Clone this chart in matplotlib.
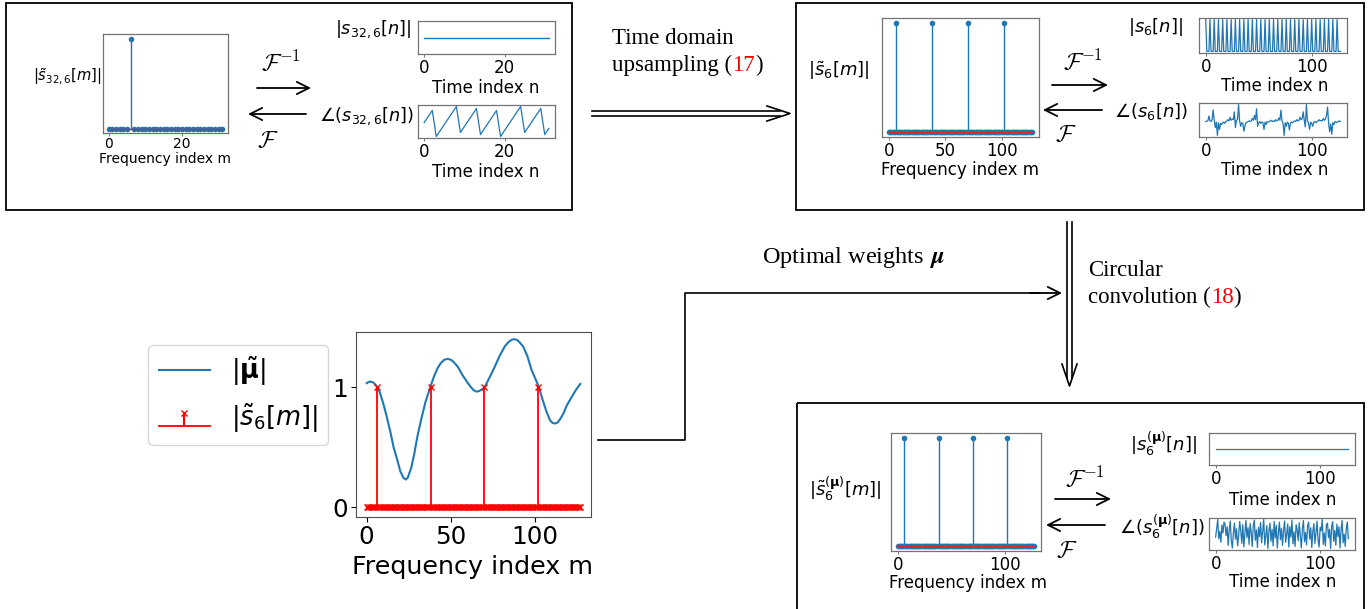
import numpy as np
import matplotlib
matplotlib.use('Agg')
import matplotlib.pyplot as plt
from matplotlib.patches import Rectangle

# ---------------- data ----------------
# |s~_{32,6}[m]|, m = 0..31
s32_spec = [0, 0, 0, 0, 0, 0, 1, 0, 0, 0, 0, 0, 0, 0, 0, 0,
            0, 0, 0, 0, 0, 0, 0, 0, 0, 0, 0, 0, 0, 0, 0, 0]
# |s_{32,6}[n]|
s32_mag = [1, 1, 1, 1, 1, 1, 1, 1, 1, 1, 1, 1, 1, 1, 1, 1,
           1, 1, 1, 1, 1, 1, 1, 1, 1, 1, 1, 1, 1, 1, 1, 1]
# angle(s_{32,6}[n])
s32_phase = [0.00, 1.18, 2.36, -2.75, -1.57, -0.39, 0.79, 1.96,
             3.14, -1.96, -0.79, 0.39, 1.57, 2.75, -2.36, -1.18,
             0.00, 1.18, 2.36, -2.75, -1.57, -0.39, 0.79, 1.96,
             3.14, -1.96, -0.79, 0.39, 1.57, 2.75, -2.36, -1.18]
# |s~_6[m]|, m = 0..127
s6_spec = [0, 0, 0, 0, 0, 0, 1, 0, 0, 0, 0, 0, 0, 0, 0, 0,
           0, 0, 0, 0, 0, 0, 0, 0, 0, 0, 0, 0, 0, 0, 0, 0,
           0, 0, 0, 0, 0, 0, 1, 0, 0, 0, 0, 0, 0, 0, 0, 0,
           0, 0, 0, 0, 0, 0, 0, 0, 0, 0, 0, 0, 0, 0, 0, 0,
           0, 0, 0, 0, 0, 0, 1, 0, 0, 0, 0, 0, 0, 0, 0, 0,
           0, 0, 0, 0, 0, 0, 0, 0, 0, 0, 0, 0, 0, 0, 0, 0,
           0, 0, 0, 0, 0, 0, 1, 0, 0, 0, 0, 0, 0, 0, 0, 0,
           0, 0, 0, 0, 0, 0, 0, 0, 0, 0, 0, 0, 0, 0, 0, 0]
# |s_6[n]|
s6_mag = [1, 0, 0, 0, 1, 0, 0, 0, 1, 0, 0, 0, 1, 0, 0, 0,
          1, 0, 0, 0, 1, 0, 0, 0, 1, 0, 0, 0, 1, 0, 0, 0,
          1, 0, 0, 0, 1, 0, 0, 0, 1, 0, 0, 0, 1, 0, 0, 0,
          1, 0, 0, 0, 1, 0, 0, 0, 1, 0, 0, 0, 1, 0, 0, 0,
          1, 0, 0, 0, 1, 0, 0, 0, 1, 0, 0, 0, 1, 0, 0, 0,
          1, 0, 0, 0, 1, 0, 0, 0, 1, 0, 0, 0, 1, 0, 0, 0,
          1, 0, 0, 0, 1, 0, 0, 0, 1, 0, 0, 0, 1, 0, 0, 0,
          1, 0, 0, 0, 1, 0, 0, 0, 1, 0, 0, 0, 1, 0, 0, 0]
# angle(s_6[n])
s6_phase = [0.0, 0.05, 0.1, 0.9, 0.1, 0.0, 0.3, 1.9, 0.2, -1.0, -0.1, -2.3, -0.2, -1.3, -0.3, -0.5,
            -0.2, -0.1, -0.3, 0.0, 0.1, 0.3, 0.1, 0.7, 0.2, 0.4, 0.3, 1.6, -1.0, 0.2, 0.3, 2.8,
            0.1, -0.8, -0.2, -0.3, -1.6, -0.7, -0.2, -0.1, 0.0, 0.1, 0.0, 0.1, 0.5, 0.2, 1.0, 0.3,
            2.1, -0.8, -0.2, 0.0, -0.3, -0.1, -0.2, -1.3, -0.1, -0.5, 0.0, -0.1, 0.0, 0.1, 0.2, 0.0,
            0.1, 0.0, 0.3, 0.1, 0.2, 0.6, 0.2, 1.9, 0.1, -0.3, -2.3, -0.2, -0.8, -0.1, -0.3, -1.4,
            -0.2, -0.1, -0.2, 0.0, 0.1, 0.0, 0.3, 0.1, 0.2, 0.7, 0.3, 0.4, 1.6, 0.2, -0.9, 2.8,
            0.2, -0.3, -1.3, -0.1, -0.3, -0.8, -0.1, 0.0, -0.2, 0.0, 0.1, 0.3, 0.1, 0.2, 0.1, 0.5,
            0.2, 0.4, 1.0, 2.4, -0.3, -1.7, -0.4, -2.1, -0.2, -0.5, 0.0, -0.1, -0.2, 0.0, 0.1, 0.0]
# |s~_6^(mu)[m]|
s6mu_spec = [0, 0, 0, 0, 0, 0, 1, 0, 0, 0, 0, 0, 0, 0, 0, 0,
             0, 0, 0, 0, 0, 0, 0, 0, 0, 0, 0, 0, 0, 0, 0, 0,
             0, 0, 0, 0, 0, 0, 1, 0, 0, 0, 0, 0, 0, 0, 0, 0,
             0, 0, 0, 0, 0, 0, 0, 0, 0, 0, 0, 0, 0, 0, 0, 0,
             0, 0, 0, 0, 0, 0, 1, 0, 0, 0, 0, 0, 0, 0, 0, 0,
             0, 0, 0, 0, 0, 0, 0, 0, 0, 0, 0, 0, 0, 0, 0, 0,
             0, 0, 0, 0, 0, 0, 1, 0, 0, 0, 0, 0, 0, 0, 0, 0,
             0, 0, 0, 0, 0, 0, 0, 0, 0, 0, 0, 0, 0, 0, 0, 0]
# |s_6^(mu)[n]|
s6mu_mag = [1, 1, 1, 1, 1, 1, 1, 1, 1, 1, 1, 1, 1, 1, 1, 1,
            1, 1, 1, 1, 1, 1, 1, 1, 1, 1, 1, 1, 1, 1, 1, 1,
            1, 1, 1, 1, 1, 1, 1, 1, 1, 1, 1, 1, 1, 1, 1, 1,
            1, 1, 1, 1, 1, 1, 1, 1, 1, 1, 1, 1, 1, 1, 1, 1,
            1, 1, 1, 1, 1, 1, 1, 1, 1, 1, 1, 1, 1, 1, 1, 1,
            1, 1, 1, 1, 1, 1, 1, 1, 1, 1, 1, 1, 1, 1, 1, 1,
            1, 1, 1, 1, 1, 1, 1, 1, 1, 1, 1, 1, 1, 1, 1, 1,
            1, 1, 1, 1, 1, 1, 1, 1, 1, 1, 1, 1, 1, 1, 1, 1]
# angle(s_6^(mu)[n])
s6mu_phase = [-0.5, 1.2, 2.9, -0.8, 0.6, -1.5, 1.8, 0.3, 2.4, 2.0, -0.2, 1.5, -2.1, 0.9, 2.6, -1.2,
              -2.6, 0.4, 2.2, -0.9, 1.1, -2.2, -0.3, 2.5, 0.8, -1.7, 1.9, -2.4, 0.2, 2.7, -0.6, 1.3,
              -1.9, 2.1, 0.5, -2.3, 1.6, 2.8, -1.1, 0.9, -2.5, 1.4, -0.4, 2.3, -1.6, 0.7, 2.9, -2.0,
              -0.2, 1.7, -2.7, 0.6, 2.2, -1.3, 1.0, -2.2, 2.5, -0.7, 1.8, -2.6, 0.3, 2.4, -1.0, 1.2,
              -2.1, 0.8, 2.6, -1.5, 0.1, 2.0, -2.4, 1.5, -0.5, 2.8, -1.8, 0.5, -2.3, 1.9, 0.9, -1.2,
              2.3, -0.3, -2.6, 1.1, 2.7, -1.4, 0.4, -2.0, 1.7, 2.4, -0.9, 1.3, -2.5, 0.6, 2.1, -1.7,
              0.2, 2.6, -1.1, -2.4, 1.4, 0.7, 2.9, -1.9, 0.3, -2.2, 1.8, 2.2, -0.6, 1.0, -2.7, 1.6,
              2.5, -1.3, 0.8, -2.1, 2.0, -0.4, 1.5, -2.6, 0.9, 2.7, -1.6, 0.1, -2.3, 1.2, 2.4, -0.8]
# |mu~| curve (frequency index, value)
mu_m = [0, 1.2, 2.4, 3.8, 5, 6.4, 8, 10.4, 12, 14.3, 16, 18.3, 20, 21.9, 23.3, 24.5, 26.5,
        28.3, 30, 32.3, 35, 37.8, 40, 42.2, 44, 46, 48.2, 50.5, 52, 54.2, 57, 60.2, 62, 63.5,
        65.1, 66.8, 68.5, 70.1, 73, 76.1, 79, 82.1, 84, 86, 87.6, 89.5, 91, 93, 95.5, 98, 100,
        102.4, 104.5, 106.9, 109, 110.5, 111.9, 113.5, 115, 116.9, 119, 121.9, 124.5, 127]
mu_val = [1.034, 1.044, 1.047, 1.04, 1.025, 1.0, 0.95, 0.838, 0.75, 0.615, 0.50, 0.39, 0.30,
          0.245, 0.232, 0.25, 0.33, 0.447, 0.58, 0.726, 0.88, 1.0, 1.09, 1.16, 1.20, 1.228, 1.237,
          1.226, 1.205, 1.17, 1.10, 1.034, 1.0, 0.977, 0.964, 0.968, 0.982, 1.0, 1.08, 1.17,
          1.26, 1.34, 1.372, 1.394, 1.40, 1.394, 1.372, 1.34, 1.26, 1.145, 1.08, 1.0, 0.90,
          0.796, 0.725, 0.703, 0.698, 0.706, 0.735, 0.78, 0.85, 0.92, 0.98, 1.028]

# ---------------- figure ----------------
W, H = 1371, 609
fig = plt.figure(figsize=(W / 100, H / 100), dpi=100)


def add_ax(x0, y0, x1, y1):
    return fig.add_axes([x0 / W, 1 - y1 / H, (x1 - x0) / W, (y1 - y0) / H])


ov = fig.add_axes([0, 0, 1, 1])
ov.set_xlim(0, W)
ov.set_ylim(H, 0)
ov.axis('off')

SERIF = 'Liberation Serif'
SPC = '0.45'


def style(ax, fs, ticks, length=2.5, pad=1.0):
    ax.set_yticks([])
    ax.set_xticks(ticks)
    ax.tick_params(labelsize=fs, length=length, width=0.7, color=SPC, pad=pad)
    for s in ax.spines.values():
        s.set_color(SPC)
        s.set_linewidth(0.9)


def small_stem(ax, vals, ms):
    idx = np.arange(len(vals))
    ml, sl, bl = ax.stem(idx, vals)
    ml.set_markersize(ms)
    sl.set_linewidth(1.0)
    bl.set_linewidth(1.0)


def txt(x, y, s, fs, ha='center', **kw):
    ov.text(x, y, s, fontsize=fs, ha=ha, va='center', **kw)


def arrow(x0, x1, y):
    ov.annotate('', xy=(x1, y), xytext=(x0, y),
                arrowprops=dict(arrowstyle='->', lw=1.3, color='k', mutation_scale=22,
                                shrinkA=0, shrinkB=0))


def chain(x, y, parts, fs):
    prev = ov.text(x, y, parts[0][0], color=parts[0][1], fontsize=fs, family=SERIF,
                   va='center', ha='left')
    for s, c in parts[1:]:
        prev = ov.annotate(s, xy=(1, 0), xycoords=prev, va='bottom', ha='left',
                           color=c, fontsize=fs, family=SERIF)


# ---- boxes ----
for (x0, y0, x1, y1) in [(6, 3, 572, 210), (796, 3, 1364, 210), (797, 403, 1364, 615)]:
    ov.add_patch(Rectangle((x0, y0), x1 - x0, y1 - y0, fill=False, ec='k', lw=1.3))

# ---- Box 1 ----
fs1 = 10.0
a = add_ax(103, 34, 228, 133)
small_stem(a, s32_spec, 3.0)
style(a, fs1, [0, 20], length=2, pad=1)
txt(165, 159, 'Frequency index m', fs1)
txt(67, 77, r'$|\tilde{s}_{32,6}[m]|$', 10.5)

fsT = 12.0
a = add_ax(418, 21, 555, 54)
a.plot(np.arange(32), s32_mag, lw=1.0)
style(a, fsT, [0, 20], length=2.5, pad=1)
txt(486, 88, 'Time index n', fsT)
txt(412, 29, r'$|s_{32,6}[n]|$', 12.8, ha='right')

a = add_ax(418, 105, 555, 138)
a.plot(np.arange(32), s32_phase, lw=0.9)
style(a, fsT, [0, 20], length=2.5, pad=1)
txt(486, 172, 'Time index n', fsT)
txt(414, 116, r'$\angle(s_{32,6}[n])$', 12.8, ha='right')

txt(281, 63, r'$\mathcal{F}^{-1}$', 17, math_fontfamily='cm')
arrow(257, 311, 88)
arrow(306, 248, 114)
txt(268, 140, r'$\mathcal{F}$', 17, math_fontfamily='cm')

# ---- middle connectors ----
chain(612, 38, [('Time domain', 'k')], 16.5)
chain(612, 65, [('upsampling (', 'k'), ('17', 'red'), (')', 'k')], 16.5)
ov.plot([592, 780], [111, 111], color='k', lw=1.2)
ov.plot([592, 780], [116, 116], color='k', lw=1.2)
ov.plot([767, 790, 767], [106, 113.5, 121], color='k', lw=1.2)

ov.plot([1067, 1067], [222, 378], color='k', lw=1.2)
ov.plot([1072, 1072], [222, 378], color='k', lw=1.2)
ov.plot([1062, 1069.5, 1077], [364, 386, 364], color='k', lw=1.2)
chain(1088, 270, [('Circular', 'k')], 16.5)
chain(1088, 297, [('convolution (', 'k'), ('18', 'red'), (')', 'k')], 16.5)

ov.text(762, 258, r'Optimal weights $\,\boldsymbol{\mu}$', fontsize=17.5, family=SERIF,
        math_fontfamily='stix', ha='left', va='center')
ov.plot([598, 685, 685, 1040], [440, 440, 293, 293], color='k', lw=1.2)
arrow(1030, 1062, 293)

# ---- Box 2 ----
fs2 = 12.0
a = add_ax(882, 18, 1039, 137)
small_stem(a, s6_spec, 3.0)
style(a, fs2, [0, 50, 100])
txt(960, 170, 'Frequency index m', fs2)
txt(839, 71, r'$|\tilde{s}_6[m]|$', 13)

a = add_ax(1199, 18, 1347, 53)
a.plot(np.arange(128), s6_mag, lw=0.9)
style(a, fs2, [0, 100])
txt(1275, 86, 'Time index n', fs2)
txt(1183, 27, r'$|s_6[n]|$', 13, ha='right')

a = add_ax(1199, 103, 1347, 137)
a.plot(np.arange(128), s6_phase, lw=0.9)
style(a, fs2, [0, 100])
txt(1275, 170, 'Time index n', fs2)
txt(1188, 112, r'$\angle(s_6[n])$', 13, ha='right')

txt(1083, 62, r'$\mathcal{F}^{-1}$', 17, math_fontfamily='cm')
arrow(1052, 1108, 85)
arrow(1102, 1043, 110)
txt(1066, 134, r'$\mathcal{F}$', 17, math_fontfamily='cm')

# ---- Box 3 ----
a = add_ax(891, 433, 1041, 551)
small_stem(a, s6mu_spec, 3.0)
style(a, fs2, [0, 100])
txt(968, 583, 'Frequency index m', fs2)
txt(845, 489, r'$|\tilde{s}_6^{(\mathbf{\mu})}[m]|$', 13)

a = add_ax(1209, 433, 1355, 465)
a.plot(np.arange(128), s6mu_mag, lw=0.9)
style(a, fs2, [0, 100])
txt(1283, 500, 'Time index n', fs2)
txt(1197, 444, r'$|s_6^{(\mathbf{\mu})}[n]|$', 13, ha='right')

a = add_ax(1209, 518, 1355, 550)
a.plot(np.arange(128), s6mu_phase, lw=0.9)
style(a, fs2, [0, 100])
txt(1283, 582, 'Time index n', fs2)
txt(1205, 527, r'$\angle(s_6^{(\mathbf{\mu})}[n])$', 13, ha='right')

txt(1085, 479, r'$\mathcal{F}^{-1}$', 17, math_fontfamily='cm')
arrow(1055, 1111, 499)
arrow(1105, 1046, 525)
txt(1067, 550, r'$\mathcal{F}$', 17, math_fontfamily='cm')

# ---- main plot ----
am = add_ax(356, 332, 591, 517)
am.plot(mu_m, mu_val, color='C0', lw=1.5, label=r'$|\tilde{\mathbf{\mu}}|$')
ml, sl, bl = am.stem(np.arange(128), s6_spec, linefmt='r-', markerfmt='rx', basefmt='r-',
                     label=r'$|\tilde{s}_6[m]|$')
ml.set_markersize(5)
sl.set_linewidth(1.3)
bl.set_linewidth(1.3)
am.set_ylim(-0.08, 1.46)
am.set_yticks([0, 1])
am.set_xticks([0, 50, 100])
am.tick_params(labelsize=17.7, length=3.5, width=0.8, pad=2.3)
for s in am.spines.values():
    s.set_color('0.3')
txt(473, 567, 'Frequency index m', 18.3)
am.legend(loc='upper right', bbox_to_anchor=(328 / W, 1 - 345 / H),
          bbox_transform=fig.transFigure, borderaxespad=0, fontsize=18.5)

fig.savefig('out.png', dpi=100)
